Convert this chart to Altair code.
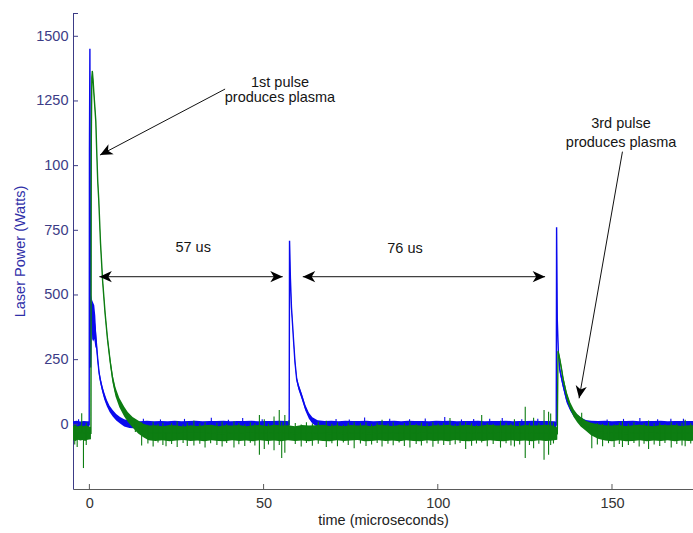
import altair as alt
import pandas as pd

# ---------------- data ----------------
# Blue trace (laser power): time (us), lower / upper edge of the noisy trace (W)
BLUE_T = [-4.7, -3.6, -2.6, -1.6, -0.6, -0.05, 0.02, 0.15, 0.35, 0.55, 0.8, 1.1, 1.4, 1.7, 2.0, 2.4, 2.8, 3.2,
          3.7, 4.3, 5.0, 5.8, 6.7, 7.7, 8.8, 10.0, 11.5, 12.5, 14.5, 16.5, 18.5, 20.5, 22.5, 24.5, 26.5, 28.5,
          30.5, 32.5, 34.5, 36.5, 38.5, 40.5, 42.5, 44.5, 46.5, 48.5, 50.5, 52.5, 54.5, 56.5, 57.35, 57.45,
          57.7, 58.0, 58.3, 58.6, 59.0, 59.5, 60.0, 61.0, 62.0, 63.0, 64.0, 65.5, 67.5, 69.5, 71.5, 73.5, 75.5,
          77.5, 79.5, 81.5, 83.5, 85.5, 87.5, 89.5, 91.5, 93.5, 95.5, 97.5, 99.5, 101.5, 103.5, 105.5, 107.5,
          109.5, 111.5, 113.5, 115.5, 117.5, 119.5, 121.5, 123.5, 125.5, 127.5, 129.5, 131.5, 133.5, 134.0,
          134.1, 134.3, 134.6, 135.0, 135.5, 136.0, 137.0, 138.0, 139.0, 140.0, 141.0, 142.5, 144.0, 146.0,
          148.0, 150.0, 152.0, 154.0, 156.0, 158.0, 160.0, 162.0, 164.0, 166.0, 168.0, 170.0, 172.0, 173.5]
BLUE_LO = [-20, -22, -18, -21, -19, -16, 1055, 1448, 215, 430, 330, 320, 330, 300, 290, 235, 185, 155,
           125, 95, 70, 48, 30, 15, 3, -8, -14, -15, -14, -15, -13, -15, -14, -15, -13, -15,
           -14, -15, -14, -13, -15, -14, -15, -14, -15, -14, -13, -15, -14, -15, -14, 705,
           555, 440, 380, 315, 230, 165, 135, 95, 52, 22, 3, -10, -14, -13, -15, -14, -15,
           -13, -14, -15, -14, -15, -13, -15, -14, -14, -15, -13, -15, -14, -14, -15, -13,
           -15, -14, -14, -15, -13, -15, -14, -14, -15, -13, -15, -14, -14, -14,
           755, 395, 272, 200, 168, 138, 82, 52, 30, 16, 4, -8, -13, -15,
           -14, -15, -13, -14, -15, -14, -15, -13, -15, -14, -14, -15, -13, -14]
BLUE_HI = [12, 14, 11, 13, 12, 12, 1065, 1456, 225, 500, 480, 470, 460, 420, 340, 265, 210, 180,
           150, 122, 95, 72, 55, 40, 28, 20, 14, 13, 12, 14, 12, 13, 12, 14, 12, 13,
           14, 12, 13, 13, 14, 12, 13, 13, 14, 12, 13, 13, 14, 13, 12, 715,
           575, 465, 400, 335, 255, 185, 158, 118, 75, 45, 27, 16, 13, 14, 12, 14, 13,
           13, 14, 12, 13, 13, 14, 12, 14, 13, 13, 12, 14, 13, 14, 12, 13,
           13, 14, 12, 13, 13, 14, 12, 13, 13, 14, 13, 13, 12, 10,
           768, 410, 290, 225, 192, 160, 105, 75, 50, 38, 26, 17, 14, 13,
           14, 12, 13, 13, 14, 12, 13, 13, 14, 12, 13, 13, 13, 13]

# Green trace: time (us), lower / upper edge (W)
GREEN_T = [-4.7, -4.0, -3.3, -2.6, -1.9, -1.2, -0.5, 0.45, 0.55, 0.7, 0.85, 1.05, 1.3, 1.55, 1.85, 2.1, 2.4,
           2.7, 3.2, 3.8, 4.5, 5.2, 6.0, 6.7, 7.5, 8.6, 10.0, 11.0, 12.4, 14.0, 15.5, 17.0, 19.0, 21.0, 23.0,
           25.0, 27.0, 29.0, 31.0, 33.0, 35.0, 37.0, 39.0, 41.0, 43.0, 45.0, 47.0, 49.0, 51.0, 53.0, 55.0,
           57.0, 59.0, 61.0, 63.0, 65.0, 67.0, 69.0, 71.0, 73.0, 75.0, 77.0, 79.0, 81.0, 83.0, 85.0, 87.0,
           89.0, 91.0, 93.0, 95.0, 97.0, 99.0, 101.0, 103.0, 105.0, 107.0, 109.0, 111.0, 113.0, 115.0,
           117.0, 119.0, 121.0, 123.0, 125.0, 127.0, 129.0, 131.0, 133.0, 134.3, 134.5, 135.0, 135.5, 136.0,
           137.0, 138.0, 139.0, 140.0, 141.0, 142.5, 144.0, 146.0, 148.0, 150.0, 152.0, 154.0, 156.0,
           158.0, 160.0, 162.0, 164.0, 166.0, 168.0, 170.0, 172.0, 173.5]
GREEN_LO = [-62, -64, -60, -63, -61, -64, -60, -58, 1090, 1330, 1360, 1325, 1270, 1220, 1160, 1050, 930,
            855, 690, 545, 420, 318, 225, 158, 108, 66, 30, 10, -12, -35, -50, -62, -64, -62, -65,
            -63, -61, -64, -63, -65, -62, -64, -65, -62, -64, -63, -65, -62, -64, -63, -65,
            -62, -64, -63, -65, -62, -64, -65, -62, -64, -63, -61, -65, -64, -62, -64, -63,
            -65, -62, -64, -65, -62, -64, -63, -65, -61, -64, -65, -63, -64, -62,
            -64, -65, -62, -64, -63, -65, -62, -64, -63, -60, 275, 243, 205, 160,
            98, 58, 28, 8, -8, -25, -42, -56, -63, -65, -62, -65, -64,
            -62, -65, -63, -64, -62, -65, -63, -64, -63]
GREEN_HI = [-6, -3, -8, -4, -7, -5, -6, -10, 1110, 1345, 1372, 1340, 1290, 1240, 1180, 1070, 950,
            875, 710, 565, 442, 342, 255, 190, 142, 102, 68, 48, 28, 15, 2, -5, -4, -7, -3,
            -5, -8, -4, -6, -4, -2, -7, -4, -5, -3, -7, -4, -3, -6, -2, -5,
            -4, -7, -3, -5, -4, -2, -6, -4, -7, -3, -5, -4, -7, -2, -4, -6,
            -3, -5, -3, -5, -7, -4, -4, -2, -6, -4, -3, -7, -4, -2,
            -5, -4, -3, -6, -3, -5, -4, -2, -5, -12, 290, 262, 225, 185,
            125, 85, 58, 40, 28, 14, 6, 0, -4, -5, -3, -6, -4,
            -2, -5, -7, -3, -4, -3, -6, -4, -3]

# Isolated noise spikes: time (us), low, high (W)
GREEN_SPIKE_T = [-3.5, -2.2, -1.7, -4.2, -0.9, 13.2, 15.0, 16.8, 18.3, 19.7, 21.1, 22.0, 23.6, 25.2, 26.9, 28.1,
                 30.0, 31.7, 33.2, 34.8, 36.6, 38.1, 39.4, 41.5, 42.9, 44.6, 46.2, 47.5, 48.8, 50.2, 51.4,
                 53.0, 54.5, 55.2, 56.1, 57.3, 59.1, 60.8, 62.3, 64.0, 65.7, 68.0, 69.6, 71.2, 72.9, 74.3,
                 76.0, 77.8, 79.4, 81.0, 82.6, 84.0, 85.7, 87.2, 88.9, 90.4, 92.0, 93.8, 95.3, 96.9, 98.6,
                 100.1, 101.7, 103.5, 105.0, 106.4, 108.0, 109.7, 111.1, 112.6, 114.2, 115.9, 118.0, 119.6,
                 121.0, 122.0, 123.5, 125.1, 126.3, 127.5, 129.0, 130.5, 131.8, 132.4, 133.2, 141.3,
                 144.2, 145.8, 147.3, 149.0, 150.6, 152.1, 153.0, 154.7, 156.3, 157.8, 159.2, 160.5,
                 162.1, 163.7, 165.2, 167.0, 168.6, 170.1, 171.0, 172.6]
GREEN_SPIKE_LO = [-88, -30, -169, -78, -80, -30, -82, -74, -86, -70, -80, -85, -76, -88, -72, -84,
                  -82, -75, -90, -73, -80, -86, -72, -90, -77, -84, -71, -82, -118, -95, -78,
                  -100, -80, -130, -110, -60, -76, -86, -72, -83, -75, -88, -73, -85, -70, -80,
                  -92, -74, -84, -78, -72, -86, -75, -81, -70, -84, -90, -76, -82, -73, -87,
                  -75, -80, -80, -77, -72, -95, -83, -74, -70, -85, -76, -90, -73,
                  -82, -86, -78, -130, -80, -92, -75, -137, -118, -80, -74, -10,
                  -92, -78, -85, -73, -88, -76, -88, -80, -72, -86, -75, -95,
                  -78, -84, -72, -90, -76, -82, -85, -74]
GREEN_SPIKE_HI = [-40, 43, -50, 0, 6, 20, 8, -2, 10, 2, 6, -30, 4, 12, -1, 7,
                  15, 3, 9, -3, 6, 11, 2, 12, 5, 0, 8, 4, 36, 20, 3,
                  30, 55, 10, 36, 17, 5, -1, 8, 3, 10, 14, 2, 7, -2, 6,
                  10, 4, 9, 0, 6, 18, 3, 8, -1, 5, 12, 2, 7, 4, 9,
                  3, 6, 24, 1, 8, 10, 4, -2, 36, 5, 2, 14, 6,
                  3, 20, 8, 68, 4, 25, 6, 55, 49, 42, 8, 45,
                  -10, 5, 2, 8, 0, 6, 12, 3, 9, -1, 5, 15,
                  4, 7, 0, 10, 3, 6, 18, 4]
BLUE_SPIKE_T = [-3.1, 15.5, 20.4, 27.3, 35.0, 39.9, 44.0, 49.6, 70.8, 74.6, 79.0, 86.2, 91.9, 96.4, 102.0,
                106.8, 110.3, 114.9, 118.5, 124.1, 128.7, 148.6, 153.3, 158.0, 163.1, 166.9, 170.5]
BLUE_SPIKE_LO = [-12, -12, -10, -11, -10, -12, -10, -11, -12, -10, -12, -11, -10, -12, -10,
                 -11, -12, -10, -12, -11, -10, -12, -11, -12, -10, -11, -10]
BLUE_SPIKE_HI = [20, 22, 19, 21, 25, 18, 24, 20, 21, 19, 26, 22, 20, 23, 28,
                 19, 21, 22, 24, 20, 22, 19, 21, 24, 20, 22, 22]

# Axis ticks
X_TICKS = [0, 50, 100, 150]
Y_TICKS = [0, 250, 500, 750, 1000, 1250, 1500]

# Annotations (data units)
NOTE_TEXT = ["1st pulse", "produces plasma", "57 us", "76 us", "3rd pulse", "produces plasma"]
NOTE_X = [54.7, 54.7, 29.8, 90.6, 152.6, 152.6]
NOTE_Y = [1320, 1262, 680, 678, 1161, 1087]
ARROW_X = [38.95, 2.87, 61.25, 153.0]
ARROW_Y = [1296, 570.6, 570.6, 1054]
ARROW_X2 = [3.07, 55.5, 130.8, 140.56]
ARROW_Y2 = [1041, 570.6, 570.6, 100.5]
HEAD_X = [3.07, 2.87, 55.5, 61.25, 130.8, 140.56]
HEAD_Y = [1041, 570.6, 570.6, 570.6, 570.6, 100.5]
HEAD_ANGLE = [152.2, 180, 0, 180, 0, 99.9]

# ---------------- chart ----------------
FONT = "Liberation Sans"
FS = 14.5
BLUE = "#0a0aee"
GREEN = "#0d7d12"
NAVY = "#3c3c86"

blue_df = pd.DataFrame({"t": BLUE_T, "lo": BLUE_LO, "hi": BLUE_HI})
blue_df["mid"] = (blue_df["lo"] + blue_df["hi"]) / 2
green_df = pd.DataFrame({"t": GREEN_T, "lo": GREEN_LO, "hi": GREEN_HI})
green_df["mid"] = (green_df["lo"] + green_df["hi"]) / 2
gs_df = pd.DataFrame({"t": GREEN_SPIKE_T, "lo": GREEN_SPIKE_LO, "hi": GREEN_SPIKE_HI})
bs_df = pd.DataFrame({"t": BLUE_SPIKE_T, "lo": BLUE_SPIKE_LO, "hi": BLUE_SPIKE_HI})

xscale = alt.Scale(domain=[-4.7, 173.25], nice=False, zero=False)
yscale = alt.Scale(domain=[-250, 1590], nice=False, zero=False)

xaxis = alt.Axis(values=X_TICKS, title="time (microseconds)", ticks=False, tickSize=0, grid=False,
                 labelPadding=7, domainColor="#5a5a5a", labelColor="#333333", labelFont=FONT,
                 labelFontSize=FS, titleFont=FONT, titleFontSize=FS, titleFontWeight="normal",
                 titleColor="#222222", titlePadding=4)
yaxis = alt.Axis(values=Y_TICKS, title="Laser Power (Watts)", ticks=False, tickSize=0, grid=False,
                 labelPadding=5, format="d",
                 labelExpr="datum.value == 1000 ? '100' : datum.label",
                 domainColor=NAVY, labelColor=NAVY, labelFont=FONT, labelFontSize=FS,
                 titleFont=FONT, titleFontSize=FS, titleFontWeight="normal", titleColor="#2f2fa8",
                 titlePadding=8)


def X(field):
    return alt.X(field, type="quantitative", scale=xscale, axis=xaxis)


def Y(field):
    return alt.Y(field, type="quantitative", scale=yscale, axis=yaxis)


def trace(df, color):
    band = alt.Chart(df).mark_area(color=color, opacity=1, clip=True, interpolate="linear").encode(
        x=X("t"), y=Y("lo"), y2="hi")
    line = alt.Chart(df).mark_line(color=color, strokeWidth=1.4, clip=True).encode(
        x=X("t"), y=Y("mid"))
    return band + line


def spikes(df, color):
    return alt.Chart(df).mark_rule(color=color, strokeWidth=1.1, clip=True).encode(
        x=X("t"), y=Y("lo"), y2="hi")


ytick_df = pd.DataFrame({"v": Y_TICKS})
xtick_df = pd.DataFrame({"v": X_TICKS})
yticks = alt.Chart(ytick_df).mark_rule(color=NAVY, strokeWidth=1).encode(
    y=Y("v"), x=alt.value(0), x2=alt.value(5))
ytop = alt.Chart(ytick_df.head(1)).mark_rule(color=NAVY, strokeWidth=1).encode(
    y=alt.value(0.5), x=alt.value(0), x2=alt.value(5))
xticks = alt.Chart(xtick_df).mark_rule(color="#5a5a5a", strokeWidth=1).encode(
    x=X("v"), y=alt.value(476), y2=alt.value(471))

notes_df = pd.DataFrame({"x": NOTE_X, "y": NOTE_Y, "text": NOTE_TEXT})
notes = alt.Chart(notes_df).mark_text(font=FONT, fontSize=FS, color="#151515", align="center",
                                      baseline="middle").encode(x=X("x"), y=Y("y"), text="text:N")

arrows_df = pd.DataFrame({"x": ARROW_X, "y": ARROW_Y, "x2": ARROW_X2, "y2": ARROW_Y2})
arrows = alt.Chart(arrows_df).mark_rule(color="#111111", strokeWidth=1).encode(
    x=X("x"), y=Y("y"), x2="x2", y2="y2")

HEAD_PATH = "M 0 0 L -1 -0.45 L -0.72 0 L -1 0.45 Z"
heads_df = pd.DataFrame({"x": HEAD_X, "y": HEAD_Y, "ang": HEAD_ANGLE})
heads = alt.Chart(heads_df).mark_point(shape=HEAD_PATH, filled=True, size=620, opacity=1,
                                       color="#000000", strokeWidth=0).encode(
    x=X("x"), y=Y("y"), angle=alt.Angle("ang:Q", scale=None))

chart = alt.layer(
    trace(blue_df, BLUE), spikes(bs_df, BLUE),
    trace(green_df, GREEN), spikes(gs_df, GREEN),
    yticks, ytop, xticks, arrows, heads, notes,
).properties(
    width=620, height=476,
    autosize=alt.AutoSizeParams(type="none"),
    padding={"left": 73, "top": 13, "right": 0, "bottom": 44},
    background="white",
).configure_view(stroke=None)

chart.save("out.html", embed_options={"renderer": "svg", "actions": False})
